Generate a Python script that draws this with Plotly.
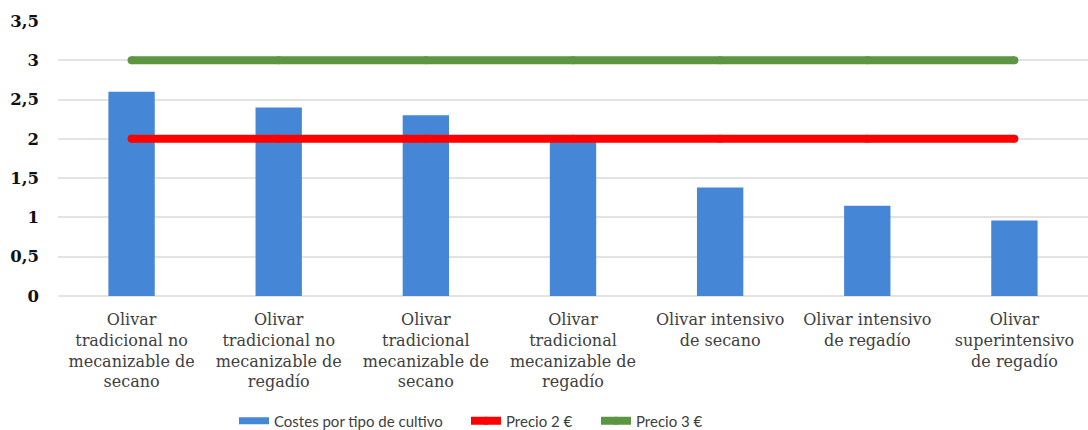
import plotly.graph_objects as go

# Categorías de cultivo y costes (€/kg)
categorias = [
    "Olivar<br>tradicional no<br>mecanizable de<br>secano",
    "Olivar<br>tradicional no<br>mecanizable de<br>regadío",
    "Olivar<br>tradicional<br>mecanizable de<br>secano",
    "Olivar<br>tradicional<br>mecanizable de<br>regadío",
    "Olivar intensivo<br>de secano",
    "Olivar intensivo<br>de regadío",
    "Olivar<br>superintensivo<br>de regadío",
]
costes = [2.6, 2.4, 2.3, 1.97, 1.38, 1.15, 0.96]
precio_2 = [2, 2, 2, 2, 2, 2, 2]
precio_3 = [3, 3, 3, 3, 3, 3, 3]
y_ticks = [0, 0.5, 1, 1.5, 2, 2.5, 3, 3.5]

AZUL = "#4587d6"
ROJO = "#ff0000"
VERDE = "#5d9640"
SERIF = "DejaVu Serif"

fig = go.Figure()

fig.add_trace(go.Bar(
    x=categorias, y=costes, marker=dict(color=AZUL, line=dict(width=0)),
    name="Costes por tipo de cultivo", showlegend=False,
))
# Entrada de leyenda con símbolo rectangular ancho
fig.add_trace(go.Scatter(
    x=[None], y=[None], mode="lines", line=dict(color=AZUL, width=7),
    name="Costes por tipo de cultivo", legend="legend",
))
fig.add_trace(go.Scatter(
    x=categorias, y=precio_2, mode="lines+markers", name="Precio 2 €",
    line=dict(color=ROJO, width=8), marker=dict(color=ROJO, size=8),
    legend="legend2",
))
fig.add_trace(go.Scatter(
    x=categorias, y=precio_3, mode="lines+markers", name="Precio 3 €",
    line=dict(color=VERDE, width=8), marker=dict(color=VERDE, size=8),
    legend="legend3",
))

legend_font = dict(family="Lato", size=15, color="#404040")


def leyenda(x_px):
    return dict(
        orientation="h", xref="container", yref="container",
        x=x_px / 1088, xanchor="left", y=1 - 421 / 430, yanchor="middle",
        font=legend_font, bgcolor="rgba(0,0,0,0)",
    )


fig.update_layout(
    width=1088, height=430,
    margin=dict(l=58, r=0, t=21, b=134, autoexpand=False),
    paper_bgcolor="white", plot_bgcolor="white",
    separators=", ",
    bargap=0.685,
    showlegend=True,
    legend=leyenda(234),
    legend2=leyenda(466),
    legend3=leyenda(596),
    xaxis=dict(
        showgrid=False, showline=False, zeroline=False, ticks="",
        tickangle=0, ticklabelstandoff=12,
        tickfont=dict(family=SERIF, size=16, color="#404040"),
    ),
    yaxis=dict(
        range=[0, 3.5], tickvals=y_ticks, showgrid=True,
        gridcolor="#e3e3e3", gridwidth=1.5, zeroline=True,
        zerolinecolor="#e3e3e3", zerolinewidth=1.5, showline=False,
        ticks="", ticklabelstandoff=18,
        tickfont=dict(family=SERIF, size=16.5, color="#111111",
                      weight="bold"),
    ),
)

fig.write_html("out.html")
